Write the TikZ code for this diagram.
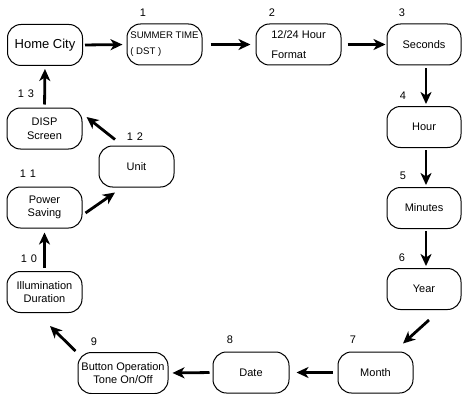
\documentclass[tikz,border=0pt]{standalone}
\usepackage{fontspec}
\setmainfont{Liberation Sans}
\usetikzlibrary{arrows.meta}
\begin{document}
\begin{tikzpicture}[x=1pt,y=-1pt,
  box/.style={draw, line width=1pt, rounded corners=13.5pt, minimum width=75pt, minimum height=41pt, inner sep=0pt, align=center, font=\fontsize{11}{13.5}\selectfont},
  num/.style={inner sep=0pt, font=\fontsize{11}{13}\selectfont},
  arr/.style={-{Stealth[length=12pt,width=11pt,inset=3.5pt]}, line width=2.8pt}]
\useasboundingbox (0,0) rectangle (462,393);
\node[box, font=\fontsize{13}{15}\selectfont] (home) at (45,45) {Home City};
\node[box, align=left, font=\fontsize{9.6}{16}\selectfont] (summer) at (164.5,44.5) {SUMMER TIME\\( DST )};
\node[box, minimum width=85pt, align=left, font=\fontsize{11}{20}\selectfont] (fmt) at (298.5,44.5) {12/24 Hour\\Format};
\node[box, minimum width=74pt] (sec) at (424,44.5) {Seconds};
\node[box, minimum width=74pt] (hour) at (424,127) {Hour};
\node[box, minimum width=74pt] (min) at (424,208) {Minutes};
\node[box, minimum width=74pt] (year) at (424,289) {Year};
\node[box] (month) at (375.5,372.5) {Month};
\node[box, minimum width=76pt] (date) at (251,372.5) {Date};
\node[box, minimum width=90pt] (button) at (123,373) {Button Operation\\Tone On/Off};
\node[box] (illum) at (44.5,292) {Illumination\\Duration};
\node[box] (power) at (44.5,207.5) {Power\\Saving};
\node[box] (unit) at (136.5,166.5) {Unit};
\node[box] (disp) at (44.5,128.5) {DISP\\Screen};
\node[num] (l1) at (143,13) {1};
\node[num] (l2) at (272,13) {2};
\node[num] (l3) at (402,13) {3};
\node[num] (l4) at (403,96) {4};
\node[num] (l5) at (403,176) {5};
\node[num] (l6) at (402,258) {6};
\node[num] (l7) at (353,340) {7};
\node[num] (l8) at (230,340) {8};
\node[num] (l9) at (94,342) {9};
\node[num] (l10) at (29,259) {1\hspace{4pt}0};
\node[num] (l11) at (28,174) {1\hspace{4pt}1};
\node[num] (l12) at (135,137) {1\hspace{4pt}2};
\node[num] (l13) at (26,94) {1\hspace{4pt}3};
\draw[arr, shorten <=2pt, shorten >=4pt] (home.east) -- (summer.west);
\draw[arr, shorten <=8pt, shorten >=5pt] (summer.east) -- (fmt.west);
\draw[arr, shorten <=6pt, shorten >=1pt] (fmt.east) -- (sec.west);
\draw[arr, shorten <=3pt, shorten >=2pt] ([xshift=2pt]sec.south) -- ([xshift=2pt]hour.north);
\draw[arr, shorten <=2pt, shorten >=2pt] ([xshift=2pt]hour.south) -- ([xshift=2pt]min.north);
\draw[arr, shorten <=2pt, shorten >=2pt] ([xshift=2pt]min.south) -- ([xshift=2pt]year.north);
\draw[arr] ([xshift=5pt,yshift=-10pt]year.south) -- ([xshift=27.5pt,yshift=8pt]month.north);
\draw[arr, shorten <=5pt, shorten >=7pt] (month.west) -- (date.east);
\draw[arr, shorten <=3pt, shorten >=4pt] (date.west) -- (button.east);
\draw[arr] ([xshift=-2pt,yshift=1pt]button.north west) -- ([xshift=5.5pt,yshift=-13pt]illum.south);
\draw[arr, shorten <=3pt, shorten >=4pt] (illum.north) -- (power.south);
\draw[arr] ([xshift=3pt,yshift=-5.5pt]power.east) -- ([xshift=-21.5pt,yshift=-5pt]unit.south);
\draw[arr] ([xshift=-21.5pt,yshift=6pt]unit.north) -- ([xshift=4pt,yshift=11.5pt]disp.east);
\draw[arr, shorten <=3pt, shorten >=3pt] (disp.north) -- (home.south);
\end{tikzpicture}
\end{document}
